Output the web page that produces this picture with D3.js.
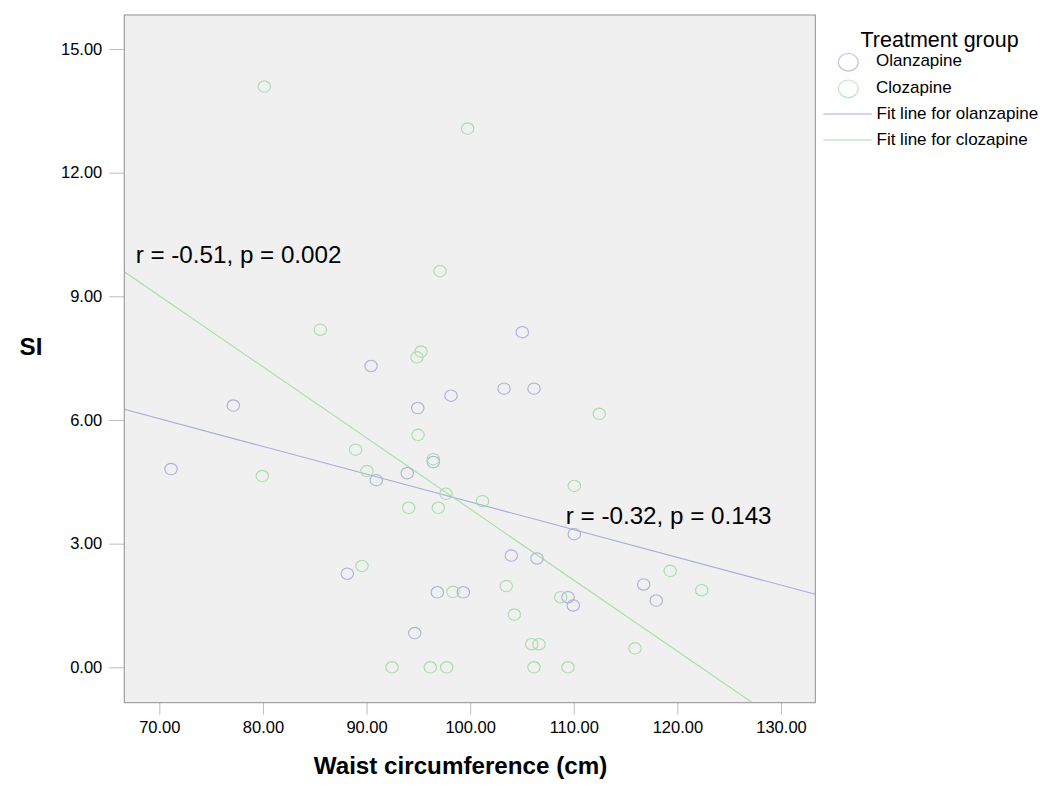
<!DOCTYPE html>
<html>
<head>
<meta charset="utf-8">
<script src="https://cdn.jsdelivr.net/npm/d3@7"></script>
<style>
  html, body { margin: 0; padding: 0; background: #ffffff; }
  svg { display: block; font-family: Arial, "Liberation Sans", sans-serif; }
</style>
</head>
<body>
<svg id="chart" width="1050" height="802"></svg>
<script>
// ---- Data ----
const groups = ["Olanzapine", "Clozapine"];
const olanzapineWaist = [71.13, 77.14, 90.43, 94.94, 98.15, 103.27, 106.16, 105.03, 96.44, 90.94, 93.93,
  88.14, 96.83, 99.34, 94.65, 103.97, 106.45, 110.05, 109.44, 109.95, 116.75, 117.96];
const olanzapineSI = [4.81, 6.35, 7.31, 6.29, 6.59, 6.76, 6.76, 8.13, 4.98, 4.54, 4.71,
  2.27, 1.82, 1.82, 0.83, 2.71, 2.64, 3.23, 1.70, 1.50, 2.01, 1.62];
const clozapineWaist = [80.13, 99.76, 97.09, 85.54, 95.26, 94.87, 94.97, 88.95, 96.44, 79.94, 90.04,
  97.67, 101.19, 94.07, 96.93, 89.56, 103.48, 98.34, 108.74, 104.26, 105.94, 106.64,
  92.46, 96.15, 97.74, 106.16, 109.44, 112.46, 110.05, 119.31, 122.35, 115.91];
const clozapineSI = [14.09, 13.07, 9.61, 8.19, 7.66, 7.52, 5.64, 5.28, 5.05, 4.64, 4.76,
  4.21, 4.03, 3.87, 3.87, 2.46, 1.97, 1.83, 1.70, 1.28, 0.56, 0.56,
  0.00, 0.00, 0.00, 0.00, 0.00, 6.15, 4.40, 2.34, 1.87, 0.46];
const fitIntercepts = [10.742, 21.09];   // olanzapine, clozapine
const fitSlopes = [-0.0673, -0.1725];
const fitLabels = ["Fit line for olanzapine", "Fit line for clozapine"];
const annotations = ["r = -0.51, p = 0.002", "r = -0.32, p = 0.143"];
const annotationAt = [[67.72, 9.8], [109.23, 3.48]];
const xTicks = [70, 80, 90, 100, 110, 120, 130];
const yTicks = [0, 3, 6, 9, 12, 15];
const xDomain = [66.62, 133.31];
const yDomain = [-0.859, 15.825];
const xTitle = "Waist circumference (cm)";
const yTitle = "SI";
const legendTitle = "Treatment group";

// ---- Styles ----
const pointColors = ["#aab0dc", "#a9dcaa"];
const lineColors = ["#a6abd8", "#a8dca8"];
const legendPointColors = ["#bcc0e6", "#bde6bd"];

const svg = d3.select("#chart");
const plot = { left: 124.3, right: 815.3, top: 15, bottom: 702.7 };

const x = d3.scaleLinear().domain(xDomain).range([plot.left, plot.right]);
const y = d3.scaleLinear().domain(yDomain).range([plot.bottom, plot.top]);

// plot background
svg.append("rect")
  .attr("x", plot.left).attr("y", plot.top)
  .attr("width", plot.right - plot.left).attr("height", plot.bottom - plot.top)
  .attr("fill", "#f0f0f0");

svg.append("clipPath").attr("id", "clip")
  .append("rect")
  .attr("x", plot.left).attr("y", plot.top)
  .attr("width", plot.right - plot.left).attr("height", plot.bottom - plot.top);

// axes
const xAxis = svg.append("g")
  .attr("transform", `translate(0,${plot.bottom})`)
  .call(d3.axisBottom(x).tickValues(xTicks).tickFormat(d3.format(".2f")).tickSize(12).tickPadding(7));
const yAxis = svg.append("g")
  .attr("transform", `translate(${plot.left},0)`)
  .call(d3.axisLeft(y).tickValues(yTicks).tickFormat(d3.format(".2f")).tickSize(15).tickPadding(7));
[xAxis, yAxis].forEach(g => {
  g.select(".domain").remove();
  g.selectAll(".tick line").attr("stroke", "#bdbdbd");
  g.selectAll(".tick text").attr("fill", "#000").style("font-size", "16.5px")
    .style("font-family", "Arial, 'Liberation Sans', sans-serif");
});

// fit lines
const clipG = svg.append("g").attr("clip-path", "url(#clip)");
groups.forEach((g, i) => {
  const f = v => fitIntercepts[i] + fitSlopes[i] * v;
  clipG.append("line")
    .attr("x1", x(xDomain[0])).attr("y1", y(f(xDomain[0])))
    .attr("x2", x(xDomain[1])).attr("y2", y(f(xDomain[1])))
    .attr("stroke", lineColors[i]).attr("stroke-width", 1.1);
});

// points
const seriesX = [olanzapineWaist, clozapineWaist];
const seriesY = [olanzapineSI, clozapineSI];
groups.forEach((g, i) => {
  clipG.append("g").selectAll("ellipse")
    .data(d3.zip(seriesX[i], seriesY[i]))
    .join("ellipse")
    .attr("cx", d => x(d[0])).attr("cy", d => y(d[1]))
    .attr("rx", 6.2).attr("ry", 5.7)
    .attr("fill", "none").attr("stroke", pointColors[i]).attr("stroke-width", 1.1);
});

// annotations
annotations.forEach((t, i) => {
  svg.append("text")
    .attr("x", x(annotationAt[i][0])).attr("y", y(annotationAt[i][1]))
    .style("font-size", "24.2px").attr("fill", "#000")
    .text(t);
});

// border
svg.append("rect")
  .attr("x", plot.left).attr("y", plot.top)
  .attr("width", plot.right - plot.left).attr("height", plot.bottom - plot.top)
  .attr("fill", "none").attr("stroke", "#8f8f8f").attr("stroke-width", 1);

// axis titles
svg.append("text")
  .attr("x", 460.5).attr("y", 774)
  .attr("text-anchor", "middle")
  .style("font-size", "24.2px").style("font-weight", "bold")
  .text(xTitle);
svg.append("text")
  .attr("x", 31).attr("y", 355)
  .attr("text-anchor", "middle")
  .style("font-size", "24.2px").style("font-weight", "bold")
  .text(yTitle);

// legend
const lg = svg.append("g");
lg.append("text").attr("x", 860.5).attr("y", 46.5)
  .style("font-size", "21.5px").text(legendTitle);
groups.forEach((g, i) => {
  const cy = 62.3 + i * 26.5;
  lg.append("ellipse").attr("cx", 848.3).attr("cy", cy).attr("rx", 10).attr("ry", 8.8)
    .attr("fill", "none").attr("stroke", legendPointColors[i]).attr("stroke-width", 1.2);
  lg.append("text").attr("x", 876).attr("y", cy + 4 + 0.3 * i)
    .style("font-size", "17px").text(g);
});
fitLabels.forEach((t, i) => {
  const ly = 114 + i * 26;
  lg.append("line").attr("x1", 823.3).attr("x2", 871.7).attr("y1", ly).attr("y2", ly)
    .attr("stroke", lineColors[i]).attr("stroke-width", 1.2);
  lg.append("text").attr("x", 876.5).attr("y", ly + 5)
    .style("font-size", "17px").text(t);
});
</script>
</body>
</html>
